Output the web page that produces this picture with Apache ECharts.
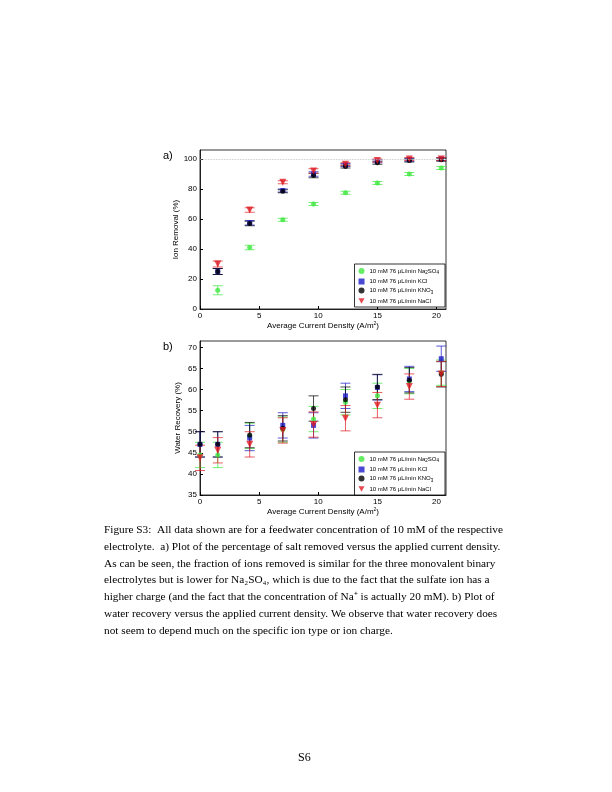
<!DOCTYPE html>
<html><head><meta charset="utf-8">
<script src="https://cdn.jsdelivr.net/npm/echarts@6/dist/echarts.min.js"></script>
<style>body{margin:0;background:#fff}#c{width:612px;height:792px}</style></head>
<body><div id="c"></div>
<script>
const xTop=[1.5,4.2,7.0,9.6,12.3,15.0,17.7,20.4];
const remNa2SO4=[12.5,41,59.5,70,77.5,84,90,94];
const remKCl=[25,57.5,79,90,96,98.5,99.5,100];
const remKNO3=[25,57,78.5,89,95,97.5,99,99.5];
const remNaCl=[30,66,84.5,92,96.5,99,100,100];
const errRemNa2SO4=[3,1.5,1,1,1,1,1,1];
const errRemOther=[2,1.5,1,1.5,1,1,1,1];
const xBot=[0,1.5,4.2,7.0,9.6,12.3,15.0,17.7,20.4];
const recNa2SO4=[44.5,44.5,49,50.5,53,57,58.5,62,64];
const recKCl=[47,47,48.5,51.5,51.5,58.5,60.5,62.5,67.3];
const recKNO3=[47,47,49.2,50.8,55.5,57.6,60.6,62.2,63.6];
const recNaCl=[43.8,45.6,47,50.3,51.7,53.2,56.3,60.7,63.7];
const errRec=[3,3,3,3,3,3,3,3,3];
const names=['Na2SO4','KCl','KNO3','NaCl'];
const colors=['#3ee83e','#1c1cc8','#000000','#e01c24'];
const symbols=['circle','rect','circle','path://M0,0 L10,0 L5,9 Z'];
const labelMap={Na2SO4:'10 mM 76 μL/min Na{s|2}SO{s|4}',KCl:'10 mM 76 μL/min KCl',KNO3:'10 mM 76 μL/min KNO{s|3}',NaCl:'10 mM 76 μL/min NaCl'};
const chart=echarts.init(document.getElementById('c'));
function errSeries(xs,ys,es,color,gi){
  return {type:'custom',xAxisIndex:gi,yAxisIndex:gi,silent:true,z:2,
    data:xs.map((x,i)=>[x,ys[i]-es[i],ys[i]+es[i]]),
    renderItem:(p,api)=>{const lo=api.coord([api.value(0),api.value(1)]);const hi=api.coord([api.value(0),api.value(2)]);const w=5;
      const st={stroke:color,lineWidth:0.9,opacity:0.8};
      return {type:'group',children:[
        {type:'line',shape:{x1:lo[0],y1:lo[1],x2:hi[0],y2:hi[1]},style:st},
        {type:'line',shape:{x1:lo[0]-w,y1:lo[1],x2:lo[0]+w,y2:lo[1]},style:st},
        {type:'line',shape:{x1:hi[0]-w,y1:hi[1],x2:hi[0]+w,y2:hi[1]},style:st}]};}};
}
const topY=[remNa2SO4,remKCl,remKNO3,remNaCl];
const topE=[errRemNa2SO4,errRemOther,errRemOther,errRemOther];
const botY=[recNa2SO4,recKCl,recKNO3,recNaCl];
const series=[];
[0,1].forEach(gi=>{
  const xs=gi===0?xTop:xBot, Ys=gi===0?topY:botY;
  Ys.forEach((ys,k)=>{
    series.push(errSeries(xs,ys,gi===0?topE[k]:errRec,colors[k],gi));
    series.push({type:'scatter',name:names[k],xAxisIndex:gi,yAxisIndex:gi,z:3,symbol:symbols[k],symbolSize:k===3?7:5,
      itemStyle:{color:colors[k]},data:xs.map((x,i)=>[x,ys[i]]),
      markLine:(gi===0&&k===0)?{silent:true,symbol:'none',label:{show:false},lineStyle:{color:'#bbb',type:'dotted',width:0.8},data:[{yAxis:100}]}:undefined});
  });
});
const axisCommon={axisLine:{lineStyle:{color:'#000',width:0.8}},axisTick:{inside:true,length:3,lineStyle:{color:'#000'}},splitLine:{show:false},
  axisLabel:{color:'#000',fontSize:8,fontFamily:'Liberation Sans'},nameTextStyle:{color:'#000',fontSize:8,fontFamily:'Liberation Sans'}};
const xAx=gi=>Object.assign({},axisCommon,{type:'value',gridIndex:gi,min:0,max:20.8,interval:5,name:'Average Current Density (A/m{p|2})',nameLocation:'middle',nameGap:12,
  nameTextStyle:{color:'#000',fontSize:8,fontFamily:'Liberation Sans',rich:{p:{fontSize:5,verticalAlign:'top',padding:[0,0,5,0]}}},
  axisLabel:{color:'#000',fontSize:8,margin:3,showMaxLabel:false,fontFamily:'Liberation Sans'}});
const legendCommon={orient:'vertical',itemWidth:6,itemHeight:6,itemGap:3,borderColor:'#000',borderWidth:0.8,padding:[4,6,3,4],backgroundColor:'#fff',
  textStyle:{fontSize:6,color:'#000',fontFamily:'Liberation Sans',rich:{s:{fontSize:4.5,verticalAlign:'bottom',padding:[4,0,0,0]}}},formatter:n=>labelMap[n],data:names};
const gridCommon={left:200,right:166,show:true,borderColor:'#000',borderWidth:0.8};
chart.setOption({animation:false,
  grid:[Object.assign({top:150,height:159},gridCommon),Object.assign({top:341,height:154},gridCommon)],
  xAxis:[xAx(0),xAx(1)],
  yAxis:[Object.assign({},axisCommon,{type:'value',gridIndex:0,min:0,max:106,interval:20,name:'Ion Removal (%)',nameLocation:'middle',nameGap:18,axisLabel:{color:'#000',fontSize:8,margin:3,showMaxLabel:false}}),
         Object.assign({},axisCommon,{type:'value',gridIndex:1,min:35,max:71.5,interval:5,name:'Water Recovery (%)',nameLocation:'middle',nameGap:18,axisLabel:{color:'#000',fontSize:8,margin:3,showMaxLabel:false}})],
  legend:[Object.assign({},legendCommon,{right:167,top:264}),Object.assign({},legendCommon,{right:167,top:452})],
  series,
  graphic:[
    {type:'text',left:163,top:150,style:{text:'a)',fontSize:11,fontFamily:'Liberation Sans',fill:'#000'}},
    {type:'text',left:163,top:341,style:{text:'b)',fontSize:11,fontFamily:'Liberation Sans',fill:'#000'}},
    {type:'text',left:104,top:522,style:{width:404,overflow:'break',lineHeight:16.7,fontSize:11.3,fontFamily:'Liberation Serif',fill:'#000',
      text:'Figure S3:  All data shown are for a feedwater concentration of 10 mM of the respective electrolyte.  a) Plot of the percentage of salt removed versus the applied current density. As can be seen, the fraction of ions removed is similar for the three monovalent binary electrolytes but is lower for Na₂SO₄, which is due to the fact that the sulfate ion has a higher charge (and the fact that the concentration of Na⁺ is actually 20 mM). b) Plot of water recovery versus the applied current density. We observe that water recovery does not seem to depend much on the specific ion type or ion charge.'}},
    {type:'text',left:298,top:752,style:{text:'S6',fontSize:12,fontFamily:'Liberation Serif',fill:'#000'}}
  ]});
</script></body></html>
